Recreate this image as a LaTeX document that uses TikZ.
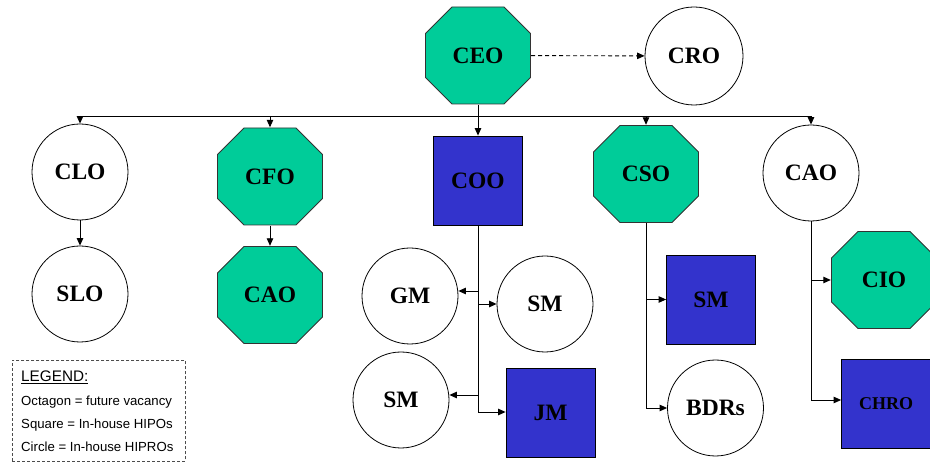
\documentclass[tikz,border=0pt]{standalone}
\usepackage{fontspec}
\setmainfont{Liberation Serif}
\setsansfont{Liberation Sans}
\usetikzlibrary{shapes.geometric,arrows.meta}
\definecolor{octgreen}{RGB}{0,204,153}
\definecolor{sqblue}{RGB}{51,51,204}
\begin{document}
\begin{tikzpicture}[x=1pt,y=-1pt,
  lbl/.style={font=\fontsize{23.5}{26}\selectfont\bfseries, text=black, inner sep=0pt},
  octa/.style={lbl, rectangle, minimum width=106, minimum height=98,
    path picture={
      \filldraw[fill=octgreen, draw=black!80, line width=0.8pt]
        ([shift={(27,0.5)}]path picture bounding box.north west) --
        ([shift={(-27,0.5)}]path picture bounding box.north east) --
        ([shift={(-0.5,27)}]path picture bounding box.north east) --
        ([shift={(-0.5,-27)}]path picture bounding box.south east) --
        ([shift={(-27,-0.5)}]path picture bounding box.south east) --
        ([shift={(27,-0.5)}]path picture bounding box.south west) --
        ([shift={(0.5,-27)}]path picture bounding box.south west) --
        ([shift={(0.5,27)}]path picture bounding box.north west) -- cycle;
    }},
  circ/.style={lbl, circle, minimum size=96, draw=black, fill=white, line width=0.8pt},
  sq/.style={lbl, rectangle, minimum width=89, minimum height=89, draw=black, fill=sqblue, line width=0.8pt},
  conn/.style={line width=0.9pt, draw=black},
  arr/.style={conn, -{Triangle[length=7.5pt,width=6.5pt]}},
  leg/.style={font=\sffamily\fontsize{13.2}{15}\selectfont, inner sep=0pt, anchor=west},
  legbox/.style={draw=black!70, dashed, dash pattern=on 3pt off 2pt, line width=0.7pt, inner sep=0pt, anchor=north west}
]
\useasboundingbox (0,0) rectangle (930,462);

% top
\node[octa] (ceo) at (478,55.5) {CEO};
\node[circ, minimum size=98] (cro) at (694,56) {CRO};
\draw[arr, dashed, dash pattern=on 4pt off 3pt] (ceo) -- (cro);

% second row
\node[circ] (clo) at (80,172) {CLO};
\node[octa] (cfo) at (270,176.5) {CFO};
\node[sq] (coo) at (478,180.5) {COO};
\node[octa] (cso) at (646,174) {CSO};
\node[circ] (caoT) at (811,173) {CAO};

% bus
\coordinate (bus) at (478,116);
\draw[conn] (ceo) -- (bus);
\draw[conn] (clo |- bus) -- (caoT |- bus);
\draw[arr] (bus) -- (coo);
\draw[arr] (clo |- bus) -- (clo);
\draw[arr] (cfo |- bus) -- (cfo);
\draw[arr] (cso |- bus) -- (cso);
\draw[arr] (caoT |- bus) -- (caoT);

% CLO / CFO children
\node[circ] (slo) at (80,294) {SLO};
\node[octa] (caoF) at (270,295) {CAO};
\draw[arr] (clo) -- (slo);
\draw[arr] (cfo) -- (caoF);

% COO children
\node[circ] (gm) at (410,296) {GM};
\node[circ] (smR) at (545,304) {SM};
\node[circ] (smL) at (401,400) {SM};
\node[sq] (jm) at (550.5,412.5) {JM};
\coordinate (cgm) at (478,291);
\coordinate (csm) at (478,304);
\coordinate (csl) at (478,395);
\coordinate (cjm) at (478,412);
\draw[conn] (coo) -- (cjm);
\draw[arr] (cgm) -- (cgm -| gm.east);
\draw[arr] (csm) -- (smR);
\draw[arr] (csl) -- (csl -| smL.east);
\draw[arr] (cjm) -- (cjm -| jm.west);

% CSO children
\node[sq] (smS) at (711,299.5) {SM};
\node[circ] (bdr) at (715.5,408) {BDRs};
\coordinate (css) at (646,299.5);
\coordinate (cbd) at (646,408);
\draw[conn] (cso) -- (cbd);
\draw[arr] (css) -- (smS);
\draw[arr] (cbd) -- (bdr);

% CAO children
\node[octa] (cio) at (884,280) {CIO};
\node[sq, font=\fontsize{18}{20}\selectfont\bfseries] (chro) at (886,404) {CHRO};
\coordinate (cci) at (811,280);
\coordinate (cch) at (811,400);
\draw[conn] (caoT) -- (cch);
\draw[arr] (cci) -- (cio);
\draw[arr] (cch) -- (cch -| chro.west);

% legend
\node[legbox, minimum width=173, minimum height=101] (legend) at (12,360) {};
\node[leg, font=\sffamily\fontsize{15.3}{17}\selectfont] (lg0) at (21,377) {\underline{LEGEND:}};
\node[leg] (lg1) at (21,402) {Octagon = future vacancy};
\node[leg] (lg2) at (21,425) {Square = In-house HIPOs};
\node[leg] (lg3) at (21,447) {Circle = In-house HIPROs};
\end{tikzpicture}
\end{document}
